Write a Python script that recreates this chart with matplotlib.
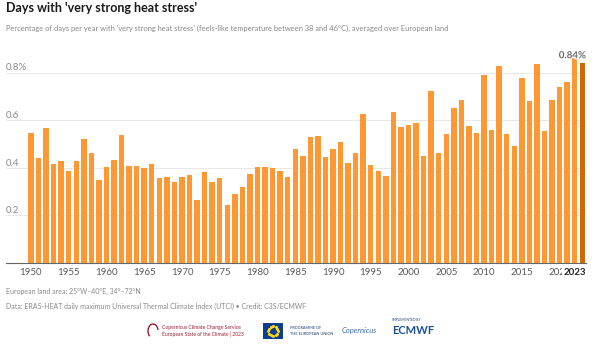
import numpy as np
import matplotlib.pyplot as plt
import matplotlib.patheffects as pe
from matplotlib.patches import Rectangle, Arc

plt.rcParams['font.family'] = ['Lato', 'DejaVu Sans']

years = np.arange(1950, 2024)
share = [0.547, 0.438, 0.568, 0.413, 0.428, 0.387, 0.428, 0.519, 0.459, 0.349,
         0.401, 0.431, 0.536, 0.408, 0.405, 0.400, 0.413, 0.356, 0.360, 0.338,
         0.360, 0.367, 0.262, 0.382, 0.337, 0.354, 0.243, 0.288, 0.316, 0.373,
         0.403, 0.404, 0.396, 0.386, 0.360, 0.478, 0.450, 0.529, 0.532, 0.445,
         0.480, 0.509, 0.419, 0.459, 0.626, 0.411, 0.384, 0.363, 0.632, 0.570,
         0.577, 0.588, 0.449, 0.721, 0.462, 0.539, 0.650, 0.686, 0.573, 0.547,
         0.790, 0.558, 0.829, 0.539, 0.490, 0.775, 0.680, 0.836, 0.554, 0.686,
         0.738, 0.758, 0.887, 0.840]
y_ticks = [0.2, 0.4, 0.6, 0.8]
y_labels = ['0.2', '0.4', '0.6', '0.8%']
x_ticks = list(range(1950, 2021, 5))

orange = '#fd9834'
dark = '#cd6a07'
grey = '#8a8a8a'

fig = plt.figure(figsize=(6, 3.45), dpi=100)
ax = fig.add_axes([6/600, 82.5/345, 580/600, 213.75/345])

colors = [orange] * (len(years) - 1) + [dark]
ax.bar(years, share, width=0.72, color=colors, zorder=2)

ax.set_xlim(1946.7, 2023.5)
ax.set_ylim(0, 0.9)

for s in ['top', 'right', 'left']:
    ax.spines[s].set_visible(False)
ax.spines['bottom'].set_color('#666666')
ax.spines['bottom'].set_linewidth(0.8)

ax.set_yticks(y_ticks)
ax.set_yticklabels([])
ax.tick_params(axis='y', length=0)
ax.grid(axis='y', color='#e8e8e8', lw=0.7, zorder=0)
for v, lab in zip(y_ticks, y_labels):
    ax.text(0, v, lab, transform=ax.get_yaxis_transform(), ha='left',
            va='bottom', fontsize=7, color=grey)

ax.set_xticks(x_ticks)
ax.set_xticklabels([str(x) for x in x_ticks], fontsize=7, color='#5a5a5a')
ax.tick_params(axis='x', length=0, pad=4)

# last year label, bold, sits over the neighbouring tick label
ax.annotate('2023', xy=(2023.5, 0), xycoords='data', xytext=(0, -4),
            textcoords='offset points', ha='right', va='top', fontsize=7,
            fontweight='bold', color='#222222',
            bbox=dict(boxstyle='square,pad=0.15', fc='white', ec='none'))

# value label for the last bar
ax.annotate(f'{share[-1]:.2f}%', xy=(2023.5, share[-1]), xytext=(0, 2),
            textcoords='offset points', ha='right', va='bottom', fontsize=7,
            fontweight='bold', color='#6e6e6e', zorder=5,
            path_effects=[pe.withStroke(linewidth=2, foreground='white')])

fig.text(6/600, 1 - 8/345, "Days with 'very strong heat stress'", fontsize=9,
         fontweight='bold', color='#1a1a1a', va='center')
fig.text(6/600, 1 - 28/345,
         "Percentage of days per year with 'very strong heat stress' "
         "(feels-like temperature between 38 and 46°C), averaged over European land",
         fontsize=5.4, color=grey, va='center')

fig.text(6/600, 1 - 291/345, 'European land area: 25°W–40°E, 34°–72°N',
         fontsize=5.0, color=grey, va='center')
fig.text(6/600, 1 - 306/345,
         'Data: ERA5-HEAT daily maximum Universal Thermal Climate Index (UTCI) • Credit: C3S/ECMWF',
         fontsize=5.0, color=grey, va='center')

# partner logos along the bottom
fig.add_artist(Arc((153/600, 1 - 331/345), 10/600, 14/345, theta1=20, theta2=250,
                   transform=fig.transFigure, color='#9b1c31', lw=1.0))
fig.text(162/600, 1 - 327/345, 'Copernicus Climate Change Service',
         fontsize=3.6, color='#9b1c31', va='center')
fig.text(162/600, 1 - 334/345, 'European State of the Climate | 2023',
         fontsize=3.6, color='#9b1c31', va='center')

fig.patches.append(Rectangle((263/600, 1 - 339/345), 20/600, 16/345,
                             transform=fig.transFigure, fc='#0e3f8f', ec='none'))
ang = np.linspace(0, 2 * np.pi, 13)[:-1]
fig.add_artist(plt.Line2D(273/600 + 5/600 * np.cos(ang),
                          1 - 331/345 + 5/345 * np.sin(ang),
                          transform=fig.transFigure, ls='none', marker='*',
                          ms=1.6, color='#ffd617'))
fig.text(290/600, 1 - 328/345, 'PROGRAMME OF', fontsize=2.8, color='#1f3f7a', va='center')
fig.text(290/600, 1 - 334/345, 'THE EUROPEAN UNION', fontsize=2.8, color='#1f3f7a', va='center')
fig.text(342/600, 1 - 330/345, 'Copernicus', fontsize=5.5, color='#3a6fb5',
         va='center', style='italic')
fig.text(392/600, 1 - 320/345, 'IMPLEMENTED BY', fontsize=2.4, color='#1f3f7a', va='center')
fig.text(392/600, 1 - 331/345, 'ECMWF', fontsize=8, color='#1c4e9a',
         fontweight='bold', va='center')

fig.savefig('out.png', dpi=100, facecolor='white')
